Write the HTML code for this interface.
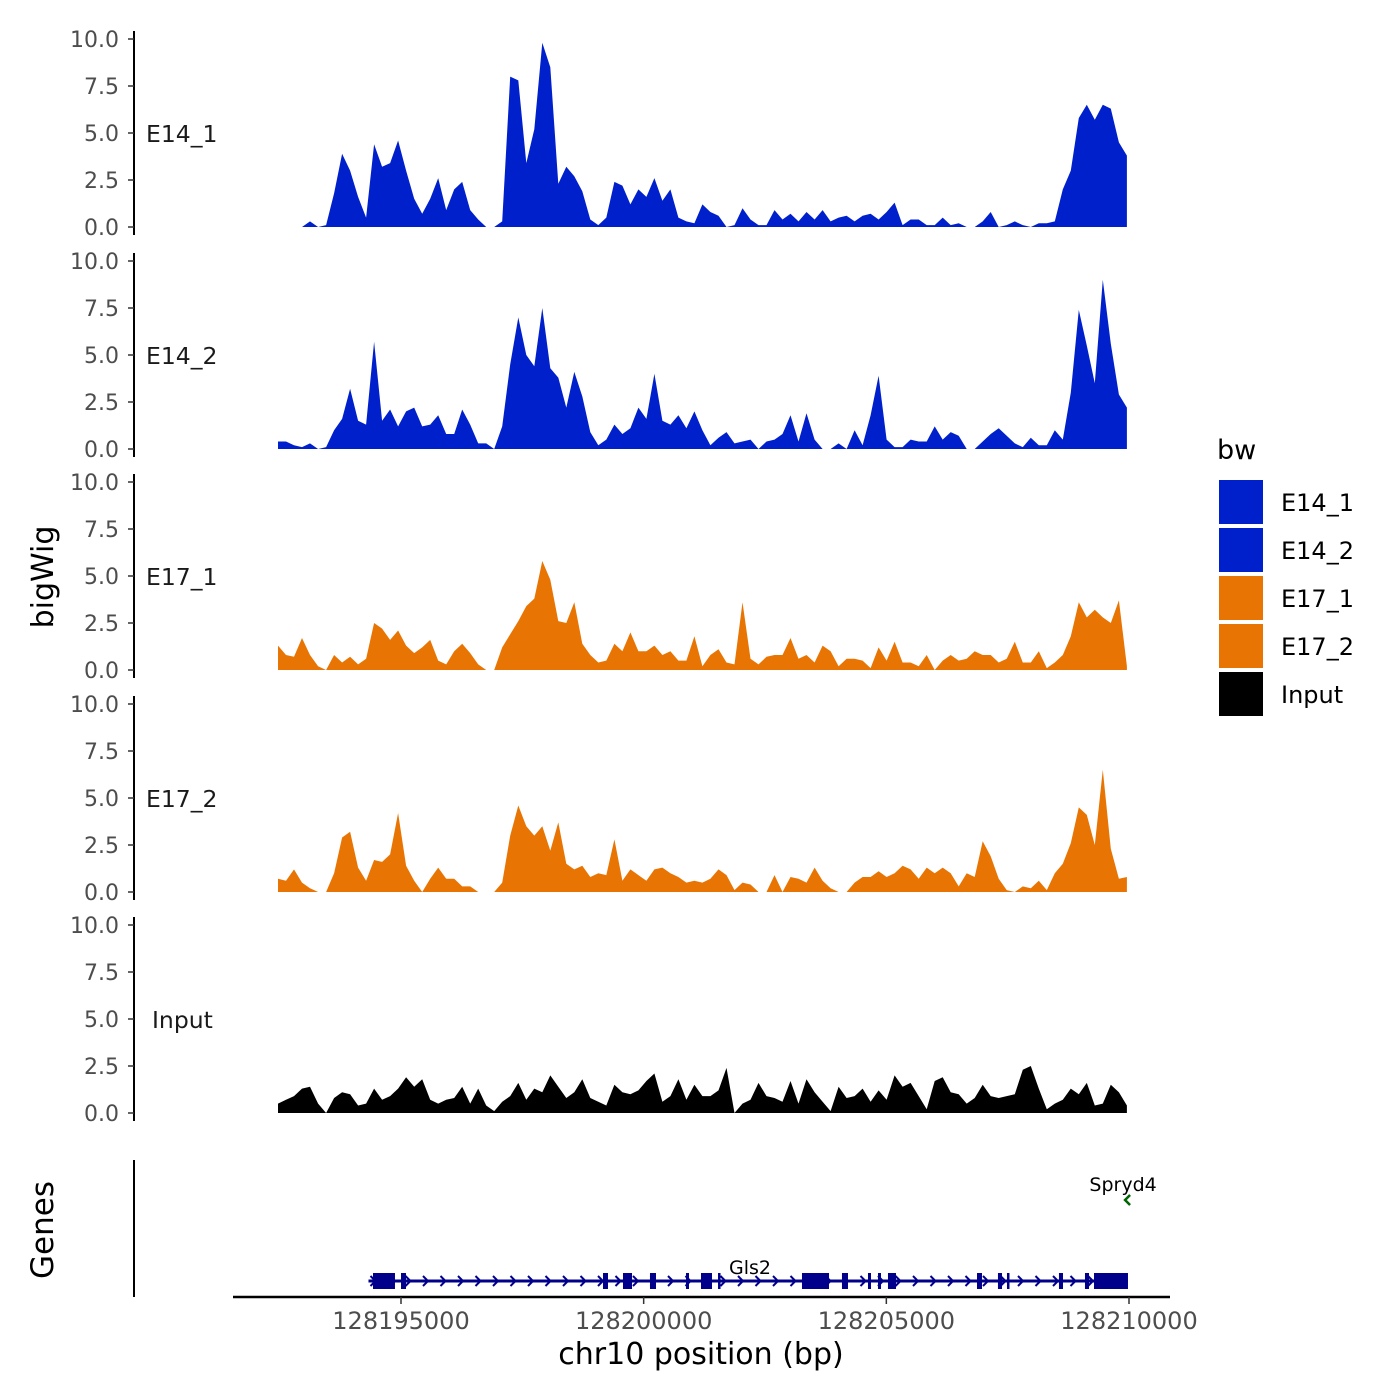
<!DOCTYPE html>
<html><head><meta charset="utf-8"><style>
body{margin:0;background:#fff;}
svg{display:block;font-family:"DejaVu Sans","Liberation Sans",sans-serif;}
</style></head><body>
<svg id="chart" width="1400" height="1400" viewBox="0 0 1400 1400" xmlns="http://www.w3.org/2000/svg"></svg>
<script>
const trackNames = ["E14_1","E14_2","E17_1","E17_2","Input"];
const trackColors = ["#0020CC","#0020CC","#E87503","#E87503","#000000"];
const binStart = 128192466;
const binSize = 165;
const valsE14_1 = [0,0,0,0,0.3,0,0.1,1.8,3.9,3.0,1.6,0.5,4.4,3.2,3.4,4.6,3.0,1.5,0.7,1.5,2.6,0.9,2.0,2.4,0.9,0.4,0,0,0.3,8.0,7.8,3.4,5.2,9.8,8.5,2.3,3.2,2.7,1.9,0.4,0.1,0.5,2.4,2.2,1.2,2.0,1.6,2.6,1.4,2.0,0.5,0.3,0.2,1.2,0.8,0.6,0,0.1,1.0,0.4,0.1,0.1,0.9,0.4,0.7,0.3,0.8,0.4,0.9,0.3,0.5,0.6,0.3,0.6,0.7,0.4,0.8,1.3,0.1,0.4,0.4,0.1,0.1,0.5,0.1,0.2,0,0,0.3,0.8,0,0.1,0.3,0.1,0,0.2,0.2,0.3,2.0,3.0,5.8,6.5,5.7,6.5,6.3,4.5,3.8];
const valsE14_2 = [0.4,0.4,0.2,0.1,0.3,0,0.1,1.0,1.6,3.2,1.5,1.3,5.7,1.5,2.1,1.2,2.0,2.2,1.2,1.3,1.8,0.8,0.8,2.1,1.3,0.3,0.3,0,1.2,4.5,7.0,5.0,4.4,7.5,4.3,3.8,2.2,4.1,2.8,0.9,0.2,0.5,1.3,0.8,1.1,2.2,1.6,4.0,1.5,1.3,1.8,1.1,2.0,1.0,0.2,0.6,0.9,0.3,0.4,0.5,0,0.4,0.5,0.8,1.8,0.4,1.9,0.5,0,0,0.3,0,1.0,0.2,1.8,3.9,0.5,0.1,0.1,0.5,0.4,0.4,1.2,0.5,0.9,0.7,0,0,0.4,0.8,1.1,0.7,0.3,0.1,0.6,0.2,0.2,1.0,0.5,3.0,7.4,5.5,3.5,9.0,5.6,2.9,2.2];
const valsE17_1 = [1.3,0.8,0.7,1.7,0.8,0.2,0,0.8,0.4,0.7,0.3,0.6,2.5,2.2,1.6,2.1,1.3,0.9,1.2,1.6,0.5,0.3,1.0,1.4,0.9,0.3,0,0,1.2,1.9,2.6,3.4,3.8,5.8,4.8,2.6,2.5,3.6,1.4,0.8,0.4,0.5,1.4,1.0,2.0,1.0,1.0,1.3,0.8,1.0,0.5,0.5,1.8,0.2,0.8,1.1,0.4,0.3,3.6,0.6,0.3,0.7,0.8,0.8,1.7,0.6,0.8,0.4,1.3,1.0,0.2,0.6,0.6,0.5,0.1,1.2,0.5,1.5,0.4,0.4,0.2,0.8,0,0.5,0.8,0.5,0.6,1.0,0.8,0.8,0.4,0.6,1.5,0.4,0.4,1.0,0.1,0.4,0.8,1.8,3.6,2.8,3.2,2.8,2.5,3.7,0.2];
const valsE17_2 = [0.7,0.6,1.2,0.5,0.2,0,0,1.0,2.9,3.2,1.3,0.6,1.7,1.6,2.0,4.2,1.4,0.6,0,0.7,1.3,0.7,0.7,0.3,0.3,0,0,0,0.5,3.0,4.6,3.5,3.0,3.5,2.2,3.7,1.5,1.2,1.4,0.8,1.0,0.9,2.8,0.6,1.2,0.9,0.6,1.2,1.3,1.0,0.8,0.5,0.6,0.5,0.7,1.2,0.9,0.1,0.5,0.4,0,0,0.9,0,0.8,0.7,0.5,1.3,0.6,0.2,0,0,0.5,0.8,0.8,1.1,0.8,1.0,1.4,1.2,0.7,1.3,1.0,1.3,1.0,0.3,1.0,0.8,2.7,1.9,0.7,0.1,0,0.3,0.2,0.6,0.1,1.0,1.5,2.6,4.5,4.1,2.5,6.5,2.3,0.7,0.8];
const valsInput = [0.5,0.7,0.9,1.3,1.4,0.5,0,0.8,1.1,1.0,0.4,0.5,1.3,0.7,0.9,1.3,1.9,1.4,1.8,0.7,0.5,0.7,0.8,1.4,0.5,1.3,0.4,0.1,0.6,0.9,1.6,0.7,1.3,1.1,2.0,1.4,0.8,1.1,1.8,0.8,0.6,0.4,1.5,1.1,1.0,1.2,1.7,2.1,0.6,0.9,1.8,0.7,1.5,0.9,0.9,1.2,2.4,0,0.5,0.7,1.6,0.9,0.8,0.6,1.7,0.5,1.8,1.1,0.6,0.1,1.4,0.8,0.9,1.3,0.6,1.2,0.7,2.0,1.4,1.6,0.9,0.2,1.7,1.9,1.1,1.0,0.5,0.8,1.5,0.9,0.8,0.9,1.0,2.3,2.5,1.3,0.2,0.5,0.7,1.3,1.0,1.6,0.4,0.5,1.5,1.1,0.4];
const allVals = [valsE14_1,valsE14_2,valsE17_1,valsE17_2,valsInput];
const yTicks = [0,2.5,5,7.5,10];
const yTickLabels = ["0.0","2.5","5.0","7.5","10.0"];
const xTicks = [128195000,128200000,128205000,128210000];
const xTickLabels = ["128195000","128200000","128205000","128210000"];
const geneStart = 128194330, geneEnd = 128209979;
const exonStarts = [128194423,128195000,128199162,128199574,128200130,128200872,128201181,128201532,128203262,128204086,128204622,128204828,128205034,128206868,128207300,128207486,128208557,128209093,128209279];
const exonEnds   = [128194876,128195103,128199265,128199760,128200254,128200934,128201408,128201573,128203819,128204210,128204684,128204890,128205199,128206971,128207383,128207527,128208640,128209176,128209979];
const spryd4Pos = 128209960;

const NS="http://www.w3.org/2000/svg";
const svg=document.getElementById('chart');
function mk(tag,attrs,parent){const e=document.createElementNS(NS,tag);for(const k in attrs)e.setAttribute(k,attrs[k]);(parent||svg).appendChild(e);return e;}
const xScale = bp => 401 + (bp-128195000)/15000*728;
const panelZero = [227,449,670,892,1113];
const yScale = (p,v) => panelZero[p] - v*18.8;

trackNames.forEach((name,p)=>{
  const g=mk('g',{});
  
  
  const vals=allVals[p];
  let d='M'+xScale(binStart)+','+yScale(p,0);
  vals.forEach((v,i)=>{d+=' L'+xScale(binStart+i*binSize).toFixed(1)+','+yScale(p,v).toFixed(1);});
  d+=' L'+xScale(binStart+(vals.length-1)*binSize).toFixed(1)+','+yScale(p,0)+' Z';
  const area=mk('path',{d:d,fill:trackColors[p]},g);
  
  
  const ax=mk('line',{x1:134,x2:134,y1:yScale(p,10)-8,y2:yScale(p,0)+8,stroke:'#000','stroke-width':2},g);
  
  
  yTicks.forEach((t,k)=>{
    const y=yScale(p,t);
    mk('line',{x1:128,x2:134,y1:y,y2:y,stroke:'#333','stroke-width':1.5},g);
    const tl=mk('text',{x:119,y:y+8,'text-anchor':'end','font-size':22,fill:'#4d4d4d'},g);
    tl.textContent=yTickLabels[k];
    
    
  });
  const lab=mk('text',{x:name==='Input'?152:146,y:yScale(p,5)+9,'font-size':23.5,fill:'#1a1a1a'},g);
  lab.textContent=name;
  
  
});

const yt=mk('text',{x:0,y:0,'font-size':30,fill:'#000','text-anchor':'middle',transform:'translate(53,577) rotate(-90)'});
yt.textContent='bigWig';



const gg=mk('g',{});


mk('line',{x1:134,x2:134,y1:1160,y2:1297,stroke:'#000','stroke-width':2},gg);
const gt=mk('text',{x:0,y:0,'font-size':31,fill:'#000','text-anchor':'middle',transform:'translate(53,1230) rotate(-90)'},gg);
gt.textContent='Genes';


const gy=1281;
const gl=mk('line',{x1:xScale(geneStart),x2:xScale(geneEnd),y1:gy,y2:gy,stroke:'#00008B','stroke-width':3},gg);


for(let x=xScale(geneStart)+2;x<xScale(geneEnd)-8;x+=17.5){
  mk('path',{d:`M${x},${gy-5} L${x+5},${gy} L${x},${gy+5}`,stroke:'#00008B','stroke-width':2,fill:'none'},gg);
}
exonStarts.forEach((s,i)=>{
  const x1=xScale(s),x2=xScale(exonEnds[i]);
  const r=mk('rect',{x:x1,y:gy-8,width:Math.max(2.5,x2-x1),height:16,fill:'#00008B'},gg);
  
  
});
const gn=mk('text',{x:750,y:1274,'text-anchor':'middle','font-size':19,fill:'#000'},gg);
gn.textContent='Gls2';


const sp=mk('text',{x:xScale(spryd4Pos)-4,y:1191,'text-anchor':'middle','font-size':19,fill:'#000'},gg);
sp.textContent='Spryd4';


mk('path',{d:`M${xScale(spryd4Pos)+3},1195 L${xScale(spryd4Pos)-2},1200 L${xScale(spryd4Pos)+3},1205`,stroke:'#006400','stroke-width':2.5,fill:'none'},gg);

const xa=mk('line',{x1:233,x2:1170,y1:1297,y2:1297,stroke:'#000','stroke-width':2.5});


xTicks.forEach((t,k)=>{
  const x=xScale(t);
  mk('line',{x1:x,x2:x,y1:1297,y2:1304,stroke:'#333','stroke-width':1.5});
  const tl=mk('text',{x:x,y:1329,'text-anchor':'middle','font-size':24,fill:'#4d4d4d'});
  tl.textContent=xTickLabels[k];
  
  
});
const xt=mk('text',{x:701,y:1364,'text-anchor':'middle','font-size':30,fill:'#000'});
xt.textContent='chr10 position (bp)';



const lg=mk('g',{});


const lt=mk('text',{x:1217,y:459,'font-size':27,fill:'#000'},lg);
lt.textContent='bw';


trackNames.forEach((name,k)=>{
  const y=480+k*48;
  const r=mk('rect',{x:1219,y:y,width:44,height:44,fill:trackColors[k]},lg);
  
  
  const t=mk('text',{x:1281,y:y+31,'font-size':24,fill:'#000'},lg);
  t.textContent=name;
  
  
});
</script>
</body></html>
